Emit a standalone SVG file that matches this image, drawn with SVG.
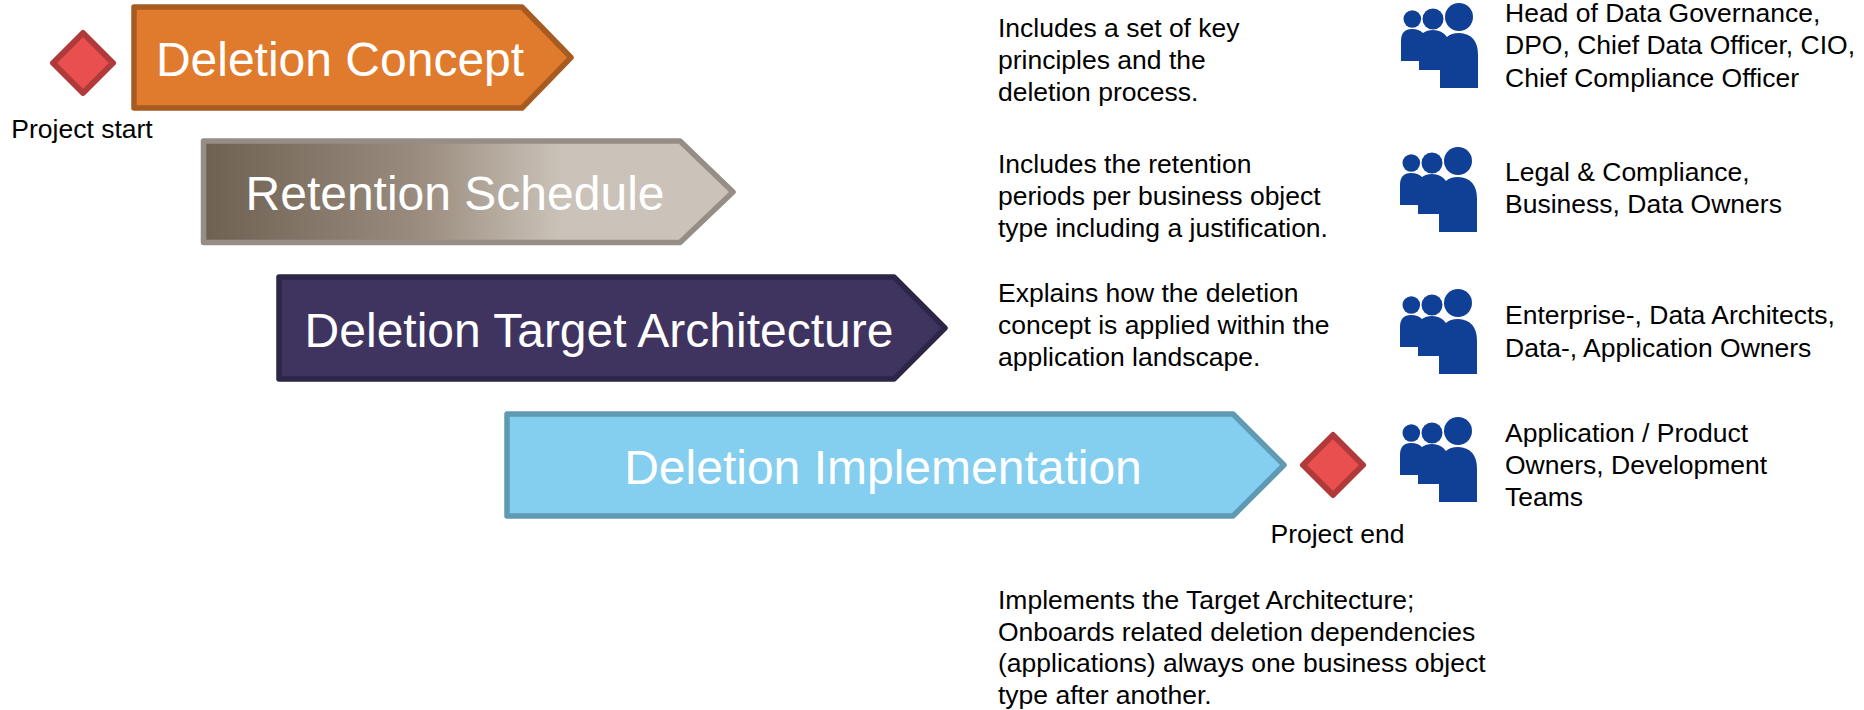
<svg xmlns="http://www.w3.org/2000/svg" width="1864" height="710" viewBox="0 0 1864 710">
<style>
text{font-family:"Liberation Sans",Arial,sans-serif;fill:#000}
.t{font-size:26.500px}
.h{font-size:48px;fill:#fff;text-anchor:middle}
.p{stroke-width:5.500;stroke-linejoin:round}
.d{fill:#ea4f4f;stroke:#b03a3a;stroke-width:6;stroke-linejoin:round}
</style>
<defs>
<linearGradient id="g" x1="0" x2="1" y1="0" y2="0">
<stop offset="0" stop-color="#6f6152"/><stop offset="0.4" stop-color="#998b7d"/><stop offset="0.68" stop-color="#cbc3b9"/><stop offset="1" stop-color="#cbc3b9"/>
</linearGradient>
<g id="people" fill="#103f96">
<circle cx="11.300" cy="16" r="8.800"/><circle cx="32" cy="16" r="10.500"/><circle cx="58" cy="14" r="14"/>
<path d="M0 58V38Q0 26 11 26Q18 26 22 30Q26 27 32 27Q41 27 46 34Q50 30 58 30Q77 31 77 52V85H39V67H18V58Z"/>
</g>
</defs>
<g id="connectors"/>
<g id="n1"><path class="p" fill="#e07b2e" stroke="#a85b20" d="M134 7H522L571 57.500L522 108H134Z"/><text class="h" x="340" y="76">Deletion Concept</text></g>
<g id="n2"><path class="p" fill="url(#g)" stroke="#968d86" d="M203.500 141H680L733 192L680 242.500H203.500Z"/><text class="h" x="455" y="210">Retention Schedule</text></g>
<g id="n3"><path class="p" fill="#3f345f" stroke="#2d2646" d="M279 277H894L945 328L894 379H279Z"/><text class="h" x="599" y="347">Deletion Target Architecture</text></g>
<g id="n4"><path class="p" fill="#84ceef" stroke="#5f9ab3" d="M507 414H1233L1284 465L1233 516H507Z"/><text class="h" x="883" y="484">Deletion Implementation</text></g>
<g id="start"><path class="d" d="M83 33L113 63L83 93L53 63Z"/><text class="t" x="82" y="138" text-anchor="middle">Project start</text></g>
<g id="end"><path class="d" d="M1333 435L1363 465L1333 495L1303 465Z"/><text class="t" x="1337.500" y="543" text-anchor="middle">Project end</text></g>
<g id="d1"><text class="t" x="998" y="37">Includes a set of key</text><text class="t" x="998" y="69">principles and the</text><text class="t" x="998" y="101">deletion process.</text></g>
<g id="d2"><text class="t" x="998" y="173">Includes the retention</text><text class="t" x="998" y="205">periods per business object</text><text class="t" x="998" y="237">type including a justification.</text></g>
<g id="d3"><text class="t" x="998" y="302">Explains how the deletion</text><text class="t" x="998" y="334">concept is applied within the</text><text class="t" x="998" y="366">application landscape.</text></g>
<g id="d4"><text class="t" x="998" y="609">Implements the Target Architecture;</text><text class="t" x="998" y="641">Onboards related deletion dependencies</text><text class="t" x="998" y="672">(applications) always one business object</text><text class="t" x="998" y="704">type after another.</text></g>
<g id="r1"><use href="#people" x="1401" y="3"/><text class="t" x="1505" y="22">Head of Data Governance,</text><text class="t" x="1505" y="54">DPO, Chief Data Officer, CIO,</text><text class="t" x="1505" y="87">Chief Compliance Officer</text></g>
<g id="r2"><use href="#people" x="1400" y="147"/><text class="t" x="1505" y="181">Legal &amp; Compliance,</text><text class="t" x="1505" y="213">Business, Data Owners</text></g>
<g id="r3"><use href="#people" x="1400" y="289"/><text class="t" x="1505" y="324">Enterprise-, Data Architects,</text><text class="t" x="1505" y="357">Data-, Application Owners</text></g>
<g id="r4"><use href="#people" x="1400" y="417"/><text class="t" x="1505" y="442">Application / Product</text><text class="t" x="1505" y="474">Owners, Development</text><text class="t" x="1505" y="506">Teams</text></g>
</svg>
